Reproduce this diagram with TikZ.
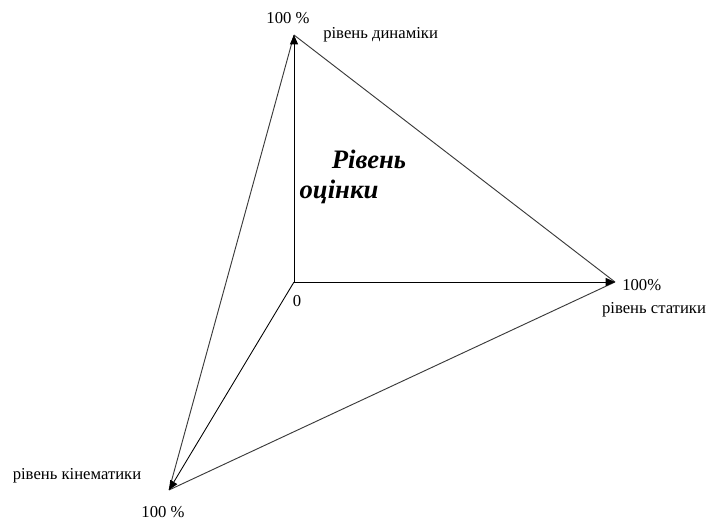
\documentclass[tikz,border=0pt]{standalone}
\usepackage{fontspec}
\setmainfont{Liberation Serif}
\usepackage{xcolor}
\usetikzlibrary{positioning, arrows.meta}
\definecolor{edgeGray}{HTML}{3a3a3a}

\begin{document}
\begin{tikzpicture}[x=0.75pt, y=-0.75pt,
      lbl/.style={inner sep=0pt, font=\fontsize{12.5}{15}\selectfont},
      ttl/.style={inner sep=0pt, font=\fontsize{20}{24}\selectfont\bfseries\itshape},
      axis/.style={-{Triangle[length=7pt, width=6pt]}, black, line width=0.65pt},
      side/.style={edgeGray, line width=0.7pt}
    ]
    \useasboundingbox (0,0) rectangle (707,522);
    \coordinate (o) at (294,282);
    \coordinate (dyn) at (294,35);
    \coordinate (stat) at (615,282);
    \coordinate (kin) at (169,490);
    % triangle sides
    \draw[side] (dyn) -- (stat);
    \draw[side] (dyn) -- (kin);
    \draw[side] (stat) -- (kin);
    % axes
    \draw[axis] (o) -- (dyn);
    \draw[axis] (o) -- (stat);
    \draw[axis] (o) -- (kin);
    % labels
    \node[lbl] (dynp) at (288,18) {100 \%};
    \node[lbl, anchor=west] (dynl) at (323,35) {рівень динаміки};
    \node[lbl, anchor=west] (statp) at (622,285) {100\%};
    \node[lbl] (statl) at (654,310) {рівень статики};
    \node[lbl] (zero) at (297,301) {0};
    \node[lbl] (kinl) at (77,476) {рівень кінематики};
    \node[lbl] (kinp) at (163,512) {100 \%};
    \node[ttl] (title) at (369,159) {Рівень};
    \node[ttl] (title2) at (339,192) {оцінки};
  \end{tikzpicture}
\end{document}
